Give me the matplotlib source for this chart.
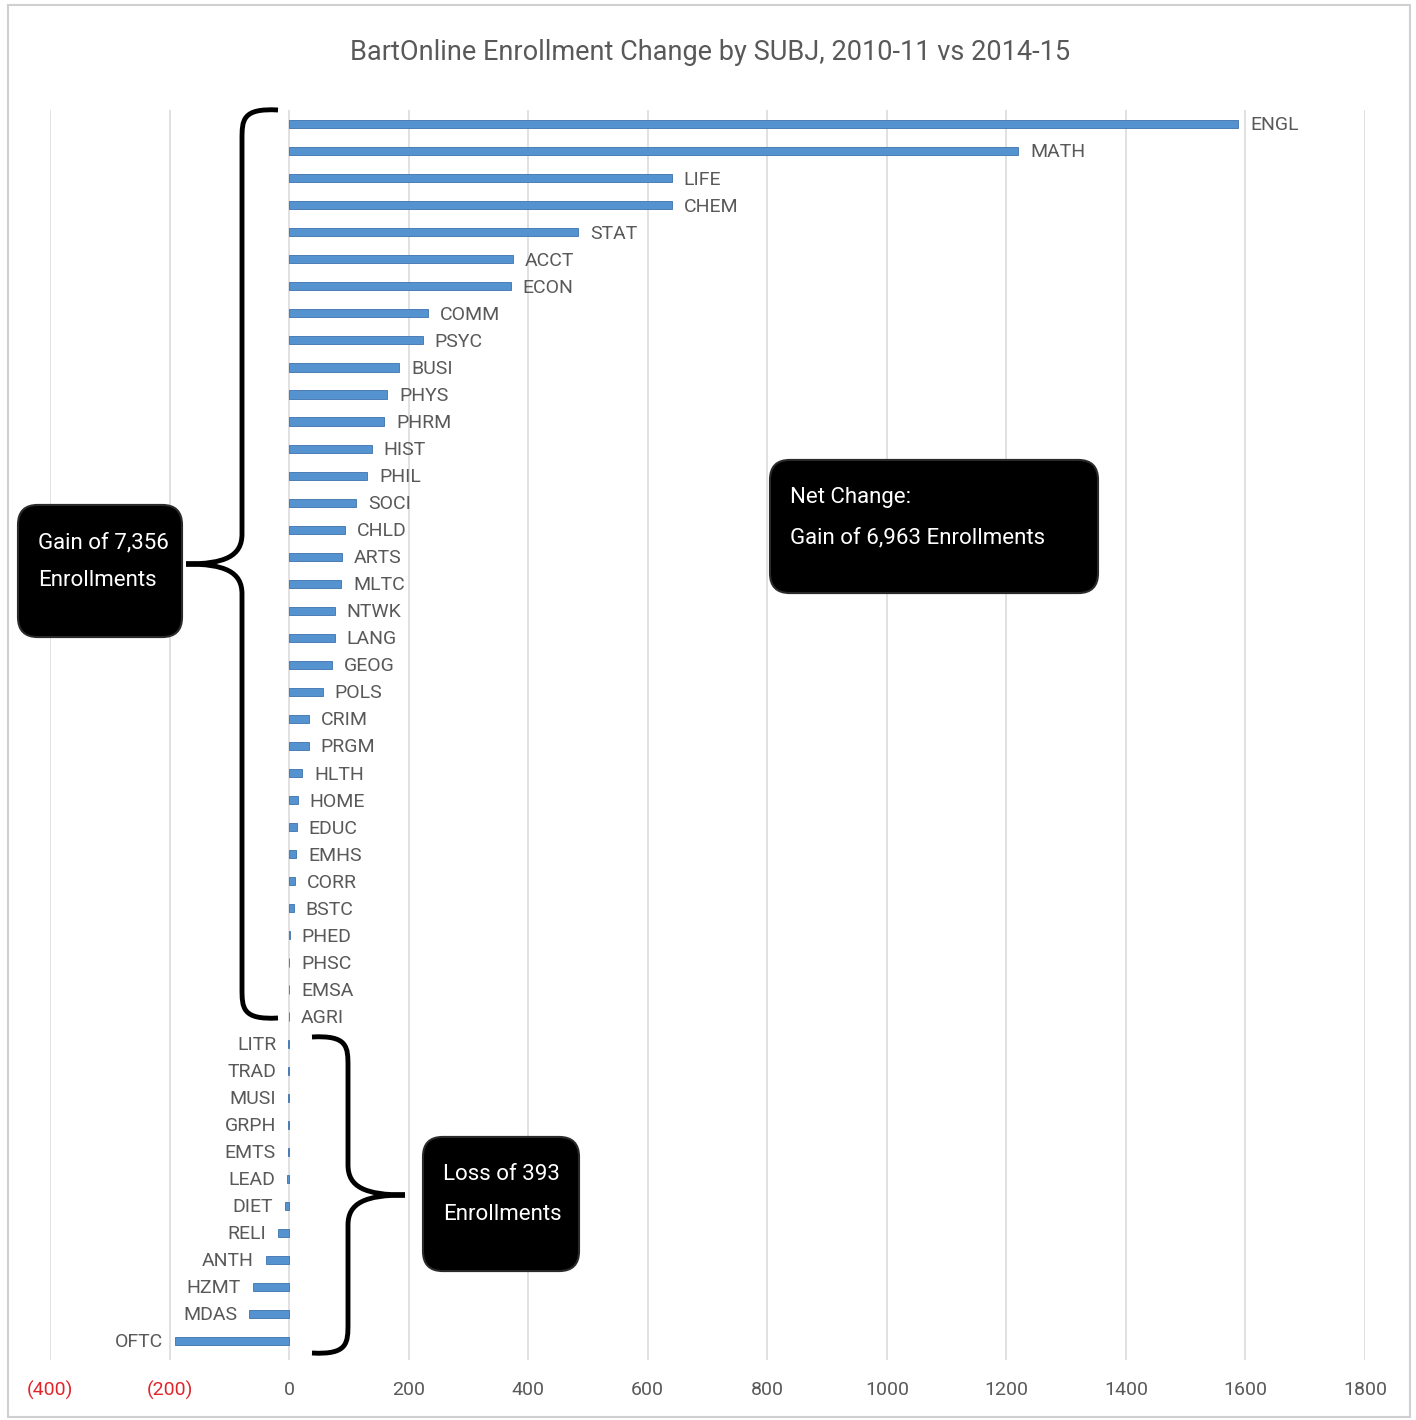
import matplotlib
matplotlib.use("Agg")
import matplotlib.pyplot as plt
from matplotlib.patches import FancyBboxPatch, Rectangle, PathPatch
from matplotlib.path import Path
from matplotlib.ticker import FixedLocator, FuncFormatter

plt.rcParams['font.family'] = ['Roboto', 'DejaVu Sans']

subjects = ['ENGL', 'MATH', 'LIFE', 'CHEM', 'STAT', 'ACCT', 'ECON', 'COMM', 'PSYC',
            'BUSI', 'PHYS', 'PHRM', 'HIST', 'PHIL', 'SOCI', 'CHLD', 'ARTS', 'MLTC',
            'NTWK', 'LANG', 'GEOG', 'POLS', 'CRIM', 'PRGM', 'HLTH', 'HOME', 'EDUC',
            'EMHS', 'CORR', 'BSTC', 'PHED', 'PHSC', 'EMSA', 'AGRI',
            'LITR', 'TRAD', 'MUSI', 'GRPH', 'EMTS', 'LEAD', 'DIET', 'RELI', 'ANTH',
            'HZMT', 'MDAS', 'OFTC']
change = [1588, 1220, 640, 640, 484, 374, 371, 232, 224, 184, 164, 159, 138, 131,
          112, 94, 89, 87, 76, 76, 72, 56, 34, 33, 22, 15, 13, 12, 10, 8, 1, 0, 0, 0,
          -1, -1, -2, -2, -2, -4, -7, -18, -39, -61, -67, -191]

W, H = 1416, 1420
fig = plt.figure(figsize=(W / 100, H / 100), dpi=100)


def fx(px):
    return px / W


def fy(py):
    return 1 - py / H


# light frame round the chart
fig.patches.append(Rectangle((fx(8), fy(1417)), fx(1402), 1412 / H, transform=fig.transFigure,
                             fill=False, edgecolor='#d0d0d0', lw=1.5))

ax = fig.add_axes([fx(50), fy(1360), fx(1315), 1250 / H])
ypos = list(range(len(subjects)))
ax.barh(ypos, change, height=0.3, color='#5592d0', edgecolor='#3d72ad', linewidth=0.6, zorder=3)
ax.set_xlim(-400, 1800)
ax.set_ylim(len(subjects) - 1 + 0.7, -0.52)
ax.xaxis.set_major_locator(FixedLocator(range(-400, 1801, 200)))
ax.xaxis.set_major_formatter(FuncFormatter(lambda v, p: f'({abs(int(v))})' if v < 0 else f'{int(v)}'))
ax.grid(axis='x', color='#dcdcdc', lw=1.2, zorder=0)
ax.set_yticks([])
for s in ax.spines.values():
    s.set_visible(False)
ax.tick_params(axis='x', length=0, pad=15, labelsize=14, labelcolor='#595959')
for lab, v in zip(ax.get_xticklabels(), range(-400, 1801, 200)):
    if v < 0:
        lab.set_color('#e0262b')

for y, (name, v) in enumerate(zip(subjects, change)):
    if v >= 0:
        ax.annotate(name, (v, y), xytext=(8.5, -1), textcoords='offset points',
                    ha='left', va='center', fontsize=14, color='#595959')
    else:
        ax.annotate(name, (v, y), xytext=(-8.5, -1), textcoords='offset points',
                    ha='right', va='center', fontsize=14, color='#595959')

fig.text(fx(710), fy(53), 'BartOnline Enrollment Change by SUBJ, 2010-11 vs 2014-15',
         ha='center', va='center', fontsize=19.5, color='#595959')


def box(x0, y0, x1, y1, lines, tx, tys):
    p = FancyBboxPatch((fx(x0 + 14), fy(y1 - 14)), fx(x1 - x0 - 28), (y1 - y0 - 28) / H,
                       boxstyle='round,pad=0.0099,rounding_size=0.014',
                       transform=fig.transFigure, facecolor='black', edgecolor='#2a2a2a', lw=1.5)
    fig.patches.append(p)
    for line, ty in zip(lines, tys):
        fig.text(fx(tx), fy(ty), line, ha='left', va='center', fontsize=16, color='white')


box(18, 505, 182, 637, ['Gain of 7,356', 'Enrollments'], 38, [543, 581])
box(770, 460, 1098, 593, ['Net Change:', 'Gain of 6,963 Enrollments'], 790, [498, 538])
box(423, 1137, 579, 1271, ['Loss of 393', 'Enrollments'], 443, [1175, 1214])


def brace(x_end, x_mid, x_tip, y_top, y_bot):
    ym = (y_top + y_bot) / 2
    r = 30
    verts = [(x_end, y_top),
             (x_mid, y_top - 2), (x_mid, y_top + 10), (x_mid, y_top + r),
             (x_mid, ym - r),
             (x_mid, ym - 8), (x_mid + (x_tip - x_mid) * 0.3, ym), (x_tip, ym),
             (x_mid + (x_tip - x_mid) * 0.3, ym), (x_mid, ym + 8), (x_mid, ym + r),
             (x_mid, y_bot - r),
             (x_mid, y_bot - 10), (x_mid, y_bot + 2), (x_end, y_bot)]
    codes = [Path.MOVETO, Path.CURVE4, Path.CURVE4, Path.CURVE4, Path.LINETO,
             Path.CURVE4, Path.CURVE4, Path.CURVE4, Path.CURVE4, Path.CURVE4, Path.CURVE4,
             Path.LINETO, Path.CURVE4, Path.CURVE4, Path.CURVE4]
    verts = [(fx(a), fy(b)) for a, b in verts]
    fig.patches.append(PathPatch(Path(verts, codes), transform=fig.transFigure,
                                 fill=False, edgecolor='black', lw=3.5, capstyle='butt'))


brace(278, 242, 186, 110, 1018)
brace(312, 348, 405, 1037, 1353)

fig.savefig('out.png', dpi=100)
